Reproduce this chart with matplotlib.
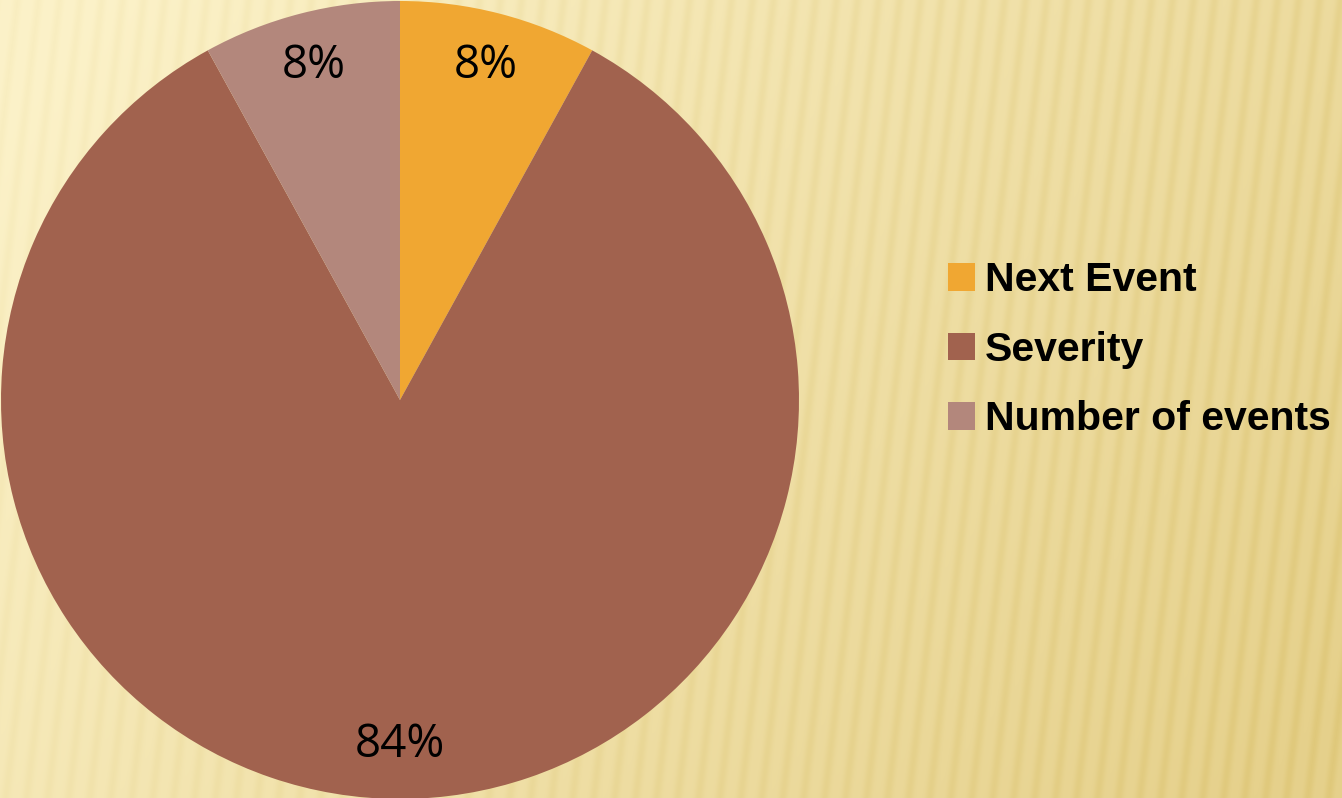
import numpy as np
import matplotlib
matplotlib.use("Agg")
import matplotlib.pyplot as plt
from matplotlib.colors import to_rgb

# Share of each factor
categories = ["Next Event", "Severity", "Number of events"]
shares = [8, 84, 8]
slice_colors = ["#F0A732", "#A1624E", "#B3877C"]

W, H = 1342, 798
fig = plt.figure(figsize=(W / 100, H / 100), dpi=100)

# Striped cream-to-tan backdrop
bg_ax = fig.add_axes([0, 0, 1, 1])
yy, xx = np.mgrid[0:H, 0:W].astype(float)
t = np.clip(0.75 * xx / W + 0.35 * yy / H - 0.05, 0, 1)
light = np.array(to_rgb("#FCF2C9"))
dark = np.array(to_rgb("#E6D18C"))
img = light[None, None, :] * (1 - t[..., None]) + dark[None, None, :] * t[..., None]
phase = 2 * np.pi * (xx - 0.12 * (H - yy)) / 21.0
stripe = (0.5 + 0.5 * np.sin(phase)) ** 2
amp = 0.04 * (0.5 + 0.5 * np.clip(xx / W, 0, 1))
img = img - (amp * stripe)[..., None] * np.array([0.6, 0.8, 1.6])[None, None, :]
img = np.clip(img, 0, 1)
bg_ax.imshow(img, extent=[0, W, 0, H], aspect="auto", origin="upper")
bg_ax.set_axis_off()

# Pie chart in pixel coordinates
ax = fig.add_axes([0, 0, 1, 1])
ax.patch.set_alpha(0)

wedges, _, autotexts = ax.pie(
    shares, colors=slice_colors, startangle=90, counterclock=False,
    center=(400, 398), radius=399, autopct="%d%%", pctdistance=0.865,
    wedgeprops=dict(linewidth=0), frame=True,
    textprops=dict(fontsize=33, color="black", family="Open Sans"),
)
ax.set_xlim(0, W)
ax.set_ylim(0, H)
ax.set_aspect("equal")
ax.set_axis_off()

leg = ax.legend(
    wedges, categories, loc="upper left", bbox_to_anchor=(932 / W, 1 - 245 / H),
    frameon=False, handlelength=0.65, handleheight=0.65,
    handletextpad=0.25, labelspacing=0.77, borderaxespad=0,
    prop=dict(family="Liberation Sans", weight="bold", size=29.5),
)

fig.savefig("out.png", dpi=100)
